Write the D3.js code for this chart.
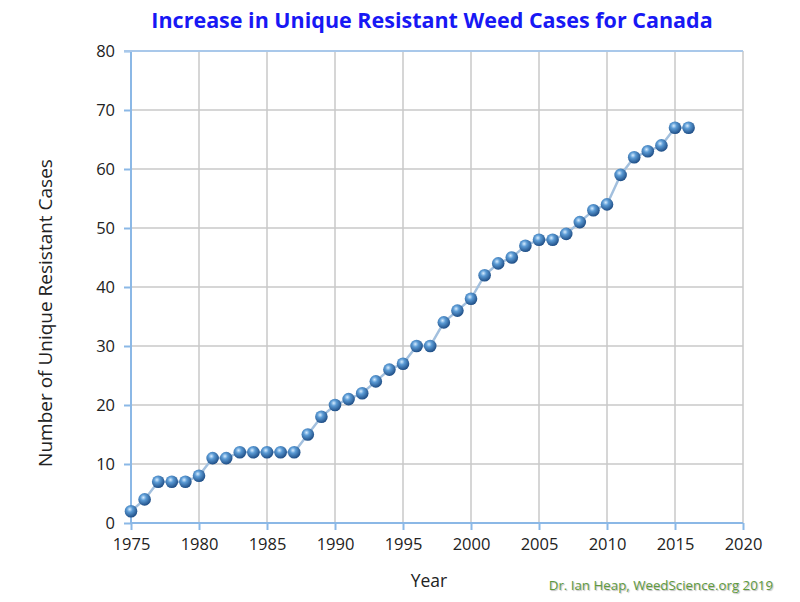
<html>
<head>
  <script src="https://cdnjs.cloudflare.com/ajax/libs/d3/7.8.5/d3.min.js"></script>
  <style>
    body { margin: 0; background: #fff; }
    text { font-family: "Open Sans", "Noto Sans", sans-serif; }
  </style>
</head>
<body>
  <svg id="chart" width="800" height="602"></svg>
  <script>
    var years = [1975, 1976, 1977, 1978, 1979, 1980, 1981, 1982, 1983, 1984, 1985, 1986, 1987, 1988,
      1989, 1990, 1991, 1992, 1993, 1994, 1995, 1996, 1997, 1998, 1999, 2000, 2001, 2002, 2003, 2004,
      2005, 2006, 2007, 2008, 2009, 2010, 2011, 2012, 2013, 2014, 2015, 2016];
    var cases = [2, 4, 7, 7, 7, 8, 11, 11, 12, 12, 12, 12, 12, 15,
      18, 20, 21, 22, 24, 26, 27, 30, 30, 34, 36, 38, 42, 44, 45, 47,
      48, 48, 49, 51, 53, 54, 59, 62, 63, 64, 67, 67];
    var xTicks = [1975, 1980, 1985, 1990, 1995, 2000, 2005, 2010, 2015, 2020];
    var yTicks = [0, 10, 20, 30, 40, 50, 60, 70, 80];

    var svg = d3.select("#chart");
    var pLeft = 131, pRight = 743, pTop = 51, pBottom = 523;

    var x = d3.scaleLinear().domain([1975, 2020]).range([pLeft, pRight]);
    var y = d3.scaleLinear().domain([0, 80]).range([pBottom, pTop]);

    // gradient for the ball markers
    var grad = svg.append("defs").append("radialGradient")
      .attr("id", "ball").attr("cx", "40%").attr("cy", "35%").attr("r", "65%");
    grad.append("stop").attr("offset", "0%").attr("stop-color", "#d6ecff");
    grad.append("stop").attr("offset", "35%").attr("stop-color", "#5b9bd5");
    grad.append("stop").attr("offset", "100%").attr("stop-color", "#1f4e86");

    // gridlines
    svg.append("g").selectAll("line").data(xTicks.slice(1)).enter().append("line")
      .attr("x1", d => x(d)).attr("x2", d => x(d))
      .attr("y1", pTop).attr("y2", pBottom)
      .style("stroke", "#c8c8c8").style("stroke-width", 1.5);
    svg.append("g").selectAll("line").data(yTicks.slice(1, -1)).enter().append("line")
      .attr("x1", pLeft).attr("x2", pRight)
      .attr("y1", d => y(d)).attr("y2", d => y(d))
      .style("stroke", "#c8c8c8").style("stroke-width", 1.5);

    // axes
    var yAxis = svg.append("g").attr("transform", "translate(" + pLeft + ",0)")
      .call(d3.axisLeft(y).tickValues(yTicks).tickSize(7).tickPadding(9));
    var xAxis = svg.append("g").attr("transform", "translate(0," + pBottom + ")")
      .call(d3.axisBottom(x).tickValues(xTicks).tickFormat(d3.format("d")).tickSize(7).tickPadding(8));
    [xAxis, yAxis].forEach(function (a) {
      a.selectAll("path, line").style("stroke", "#8bb8e6").style("stroke-width", 2);
      a.selectAll("text").style("font-size", "16.5px").style("fill", "#222");
    });
    yAxis.select(".domain").attr("d", "M0," + pTop + "V" + pBottom);
    xAxis.select(".domain").attr("d", "M" + pLeft + ",0H" + pRight);
    // top border of the plot area
    svg.append("line").attr("x1", pLeft - 7).attr("x2", pRight)
      .attr("y1", pTop).attr("y2", pTop)
      .style("stroke", "#a9c8ea").style("stroke-width", 2);

    var data = years.map((d, i) => ({ year: d, value: cases[i] }));

    svg.append("path").datum(data)
      .attr("d", d3.line().x(d => x(d.year)).y(d => y(d.value)))
      .style("fill", "none").style("stroke", "#a3c0de").style("stroke-width", 2.5);

    svg.append("g").selectAll("circle").data(data).enter().append("circle")
      .attr("cx", d => x(d.year)).attr("cy", d => y(d.value)).attr("r", 6.3)
      .style("fill", "url(#ball)");

    svg.append("text").attr("x", 432).attr("y", 28).attr("text-anchor", "middle")
      .style("font-size", "21.5px").style("font-weight", "bold").style("fill", "#1818f4")
      .text("Increase in Unique Resistant Weed Cases for Canada");

    svg.append("text").attr("x", 429).attr("y", 587).attr("text-anchor", "middle")
      .style("font-size", "17.5px").style("fill", "#222").text("Year");

    svg.append("text").attr("transform", "translate(52,313) rotate(-90)")
      .attr("text-anchor", "middle").style("font-size", "19px").style("fill", "#222")
      .text("Number of Unique Resistant Cases");

    svg.append("text").attr("x", 773).attr("y", 590).attr("text-anchor", "end")
      .style("font-size", "13.3px").style("fill", "#5f9a3e")
      .style("text-shadow", "1px 1px 1px #bbb")
      .text("Dr. Ian Heap, WeedScience.org  2019");
  </script>
</body>
</html>
